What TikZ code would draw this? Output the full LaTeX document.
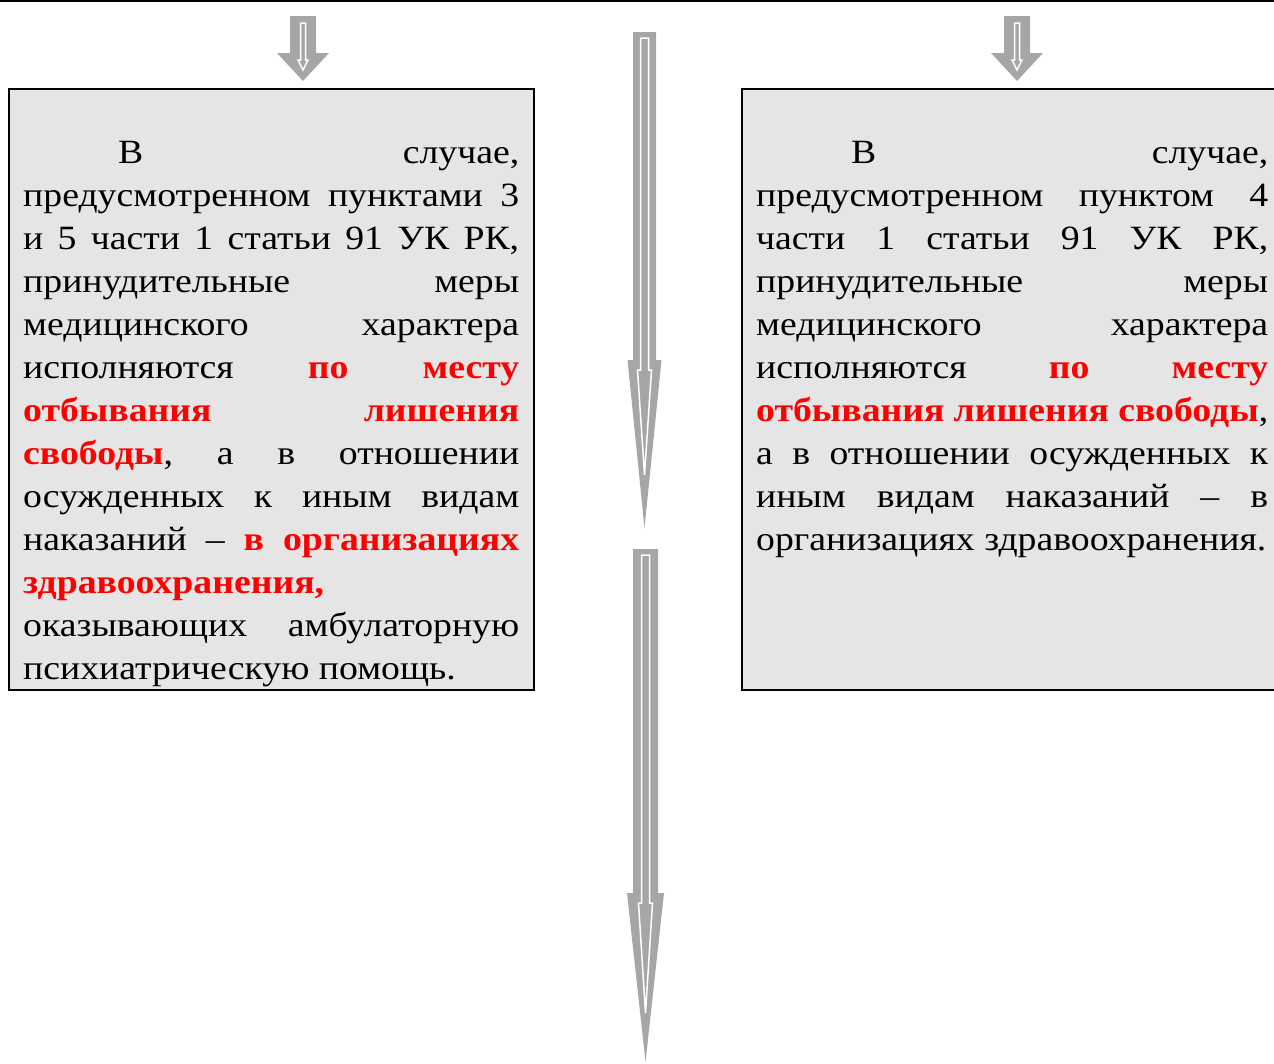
\documentclass[tikz,border=0pt]{standalone}
\usepackage{fontspec}
\setmainfont{Liberation Serif}[FakeStretch=1.11]
\usetikzlibrary{positioning}
\definecolor{BoxGray}{HTML}{E5E5E5}
\definecolor{ArrowGray}{HTML}{A6A6A6}
\definecolor{AlertRed}{HTML}{FF0000}
\newcommand{\redbf}[1]{\textcolor{AlertRed}{\textbf{#1}}}
\hbadness=10000
\hfuzz=20pt

\begin{document}
\begin{tikzpicture}[x=1pt, y=-1pt,
    box/.style={draw=black, line width=2pt, fill=BoxGray, minimum height=601pt, inner sep=0pt},
    boxtext/.style={inner sep=0pt, align=justify, anchor=north west, font=\fontsize{34pt}{43pt}\selectfont}]
      \useasboundingbox (0,0) rectangle (1274,1063);
      \clip (0,0) rectangle (1274,1063);
      \draw[line width=2pt] (0,1) -- (1274,1);

      \node[box, minimum width=525pt, anchor=north west] (leftbox) at (8,88) {};
      \node[box, minimum width=545pt, right=206pt of leftbox] (rightbox) {};

      \node[boxtext, text width=496pt] (lefttext) at ([xshift=15pt, yshift=-53pt]leftbox.north west) {%
        \hspace*{95pt}В~случае,\linebreak
        предусмотренном~пунктами~3\linebreak
        и~5~части~1~статьи~91~УК~РК,\linebreak
        принудительные~меры\linebreak
        медицинского~характера\linebreak
        исполняются~\redbf{по~месту}\linebreak
        \redbf{отбывания~лишения}\linebreak
        \redbf{свободы},~а~в~отношении\linebreak
        осужденных~к~иным~видам\linebreak
        наказаний~–~\redbf{в~организациях}\linebreak
        \redbf{здравоохранения,}\newline
        оказывающих~амбулаторную\linebreak
        психиатрическую помощь.};
      \node[boxtext, text width=512pt] (righttext) at ([xshift=15pt, yshift=-53pt]rightbox.north west) {%
        \hspace*{95pt}В~случае,\linebreak
        предусмотренном~пунктом~4\linebreak
        части~1~статьи~91~УК~РК,\linebreak
        принудительные~меры\linebreak
        медицинского~характера\linebreak
        исполняются~\redbf{по~месту}\linebreak
        \redbf{отбывания~лишения~свободы},\linebreak
        а~в~отношении~осужденных~к\linebreak
        иным~видам~наказаний~–~в\linebreak
        организациях здравоохранения.};

      % hollow block arrows: centre / top / shoulder / tip / shaft / head, then inner outline
      \foreach \cx/\ya/\yb/\yc/\sw/\hw/\iw/\ih/\yd/\ye/\yf in
          {303/16/53/81/13/26/2.5/5/23/60/70,
           1017/16/53/81/13/26/2.5/5/23/60/70,
           644.5/32/360/528/11.5/17/4/7/38/370/475,
           645.5/549/893/1062/12.5/18.5/4/7/555/903/1013} {
        \fill[ArrowGray] (\cx-\sw,\ya) -- (\cx+\sw,\ya) -- (\cx+\sw,\yb) -- (\cx+\hw,\yb)
          -- (\cx,\yc) -- (\cx-\hw,\yb) -- (\cx-\sw,\yb) -- cycle;
        \draw[white, line width=1.5pt] (\cx-\iw,\yd) -- (\cx+\iw,\yd) -- (\cx+\iw,\ye) -- (\cx+\ih,\ye)
          -- (\cx,\yf) -- (\cx-\ih,\ye) -- (\cx-\iw,\ye) -- cycle;
      }
    \end{tikzpicture}
\end{document}
